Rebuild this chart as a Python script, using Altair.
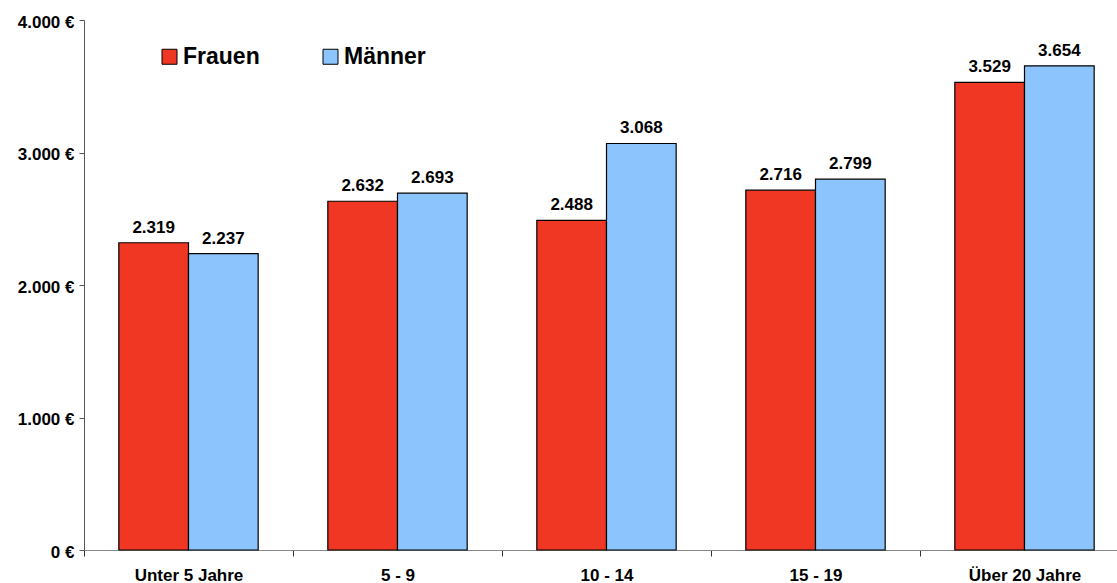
import altair as alt
import pandas as pd

# Average monthly amounts by length of service, split by gender
categories = ["Unter 5 Jahre", "5 - 9", "10 - 14", "15 - 19", "Über 20 Jahre"]
series = ["Frauen", "Männer"]
frauen = [2319, 2632, 2488, 2716, 3529]
maenner = [2237, 2693, 3068, 2799, 3654]
colors = ["#EF3723", "#8CC4FE"]
y_ticks = [0, 1000, 2000, 3000, 4000]

rows = []
for cat, f, m in zip(categories, frauen, maenner):
    rows.append({"gruppe": cat, "geschlecht": series[0], "wert": f})
    rows.append({"gruppe": cat, "geschlecht": series[1], "wert": m})
df = pd.DataFrame(rows)

FONT = "Liberation Sans"

x_enc = alt.X(
    "gruppe:N",
    sort=categories,
    scale=alt.Scale(range=[0, 1045], paddingInner=0, paddingOuter=0),
    axis=alt.Axis(
        title=None,
        labelAngle=0,
        tickBand="extent",
        tickSize=6,
        tickColor="#333333",
        domainColor="#888888",
        labelFont=FONT,
        labelFontSize=17,
        labelFontWeight="bold",
        labelColor="black",
        labelPadding=11,
    ),
)
xoff_enc = alt.XOffset(
    "geschlecht:N", sort=series, scale=alt.Scale(paddingOuter=0.5, paddingInner=0)
)
y_enc = alt.Y(
    "wert:Q",
    scale=alt.Scale(domain=[0, 4000], nice=False),
    axis=alt.Axis(
        title=None,
        values=y_ticks,
        grid=False,
        tickSize=5,
        tickColor="#555555",
        domainColor="#555555",
        labelFont=FONT,
        labelFontSize=17,
        labelFontWeight="bold",
        labelColor="black",
        labelPadding=5,
        labelOffset=2,
        labelExpr="replace(format(datum.value, ',d'), ',', '.') + ' €'",
    ),
)

bars = alt.Chart(df).mark_bar(stroke="black", strokeWidth=1.2).encode(
    x=x_enc,
    xOffset=xoff_enc,
    y=y_enc,
    color=alt.Color(
        "geschlecht:N",
        sort=series,
        scale=alt.Scale(domain=series, range=colors),
        legend=alt.Legend(
            title=None,
            orient="none",
            legendX=74,
            legendY=25,
            direction="horizontal",
            symbolType="square",
            symbolSize=225,
            symbolStrokeColor="black",
            symbolStrokeWidth=1,
            symbolOpacity=1,
            labelFont=FONT,
            labelFontSize=23,
            labelFontWeight="bold",
            labelColor="black",
            labelOffset=2,
            columnPadding=59,
            padding=0,
        ),
    ),
)

labels = alt.Chart(df).transform_calculate(
    txt="replace(format(datum.wert, ',d'), ',', '.')"
).mark_text(
    dy=-10,
    baseline="alphabetic",
    font=FONT,
    fontSize=17,
    fontWeight="bold",
    color="black",
).encode(
    x=x_enc,
    xOffset=xoff_enc,
    y=y_enc,
    text="txt:N",
)

chart = (
    alt.layer(bars, labels)
    .properties(
        width=1033,
        height=530,
        autosize=alt.AutoSizeParams(type="none"),
        padding={"left": 84, "top": 20, "right": 0, "bottom": 33},
        background="white",
    )
    .configure_view(stroke=None)
)

chart.save("out.html", embed_options={"renderer": "svg", "actions": False})
